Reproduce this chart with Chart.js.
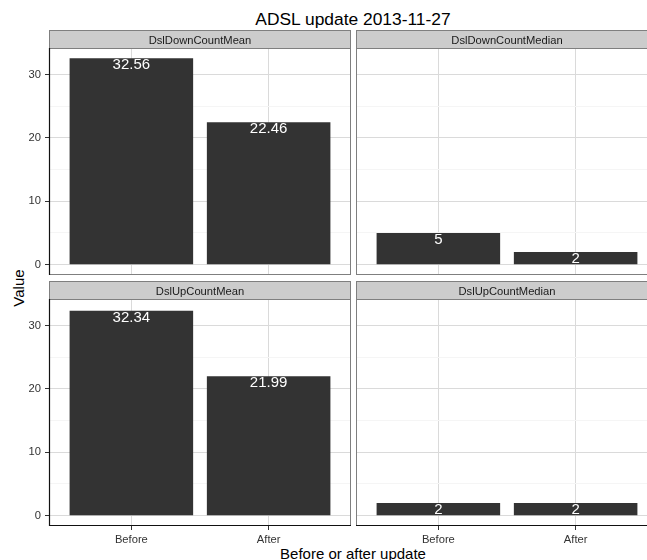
<!DOCTYPE html>
<html>
<head>
<meta charset="utf-8">
<script src="https://cdn.jsdelivr.net/npm/chart.js@4/dist/chart.umd.min.js"></script>
<style>
  html, body { margin: 0; padding: 0; width: 647px; height: 560px; overflow: hidden; background: #fff;
    font-family: "Liberation Sans", Arial, Helvetica, sans-serif; }
  .panel { position: absolute; }
  .txt { position: absolute; white-space: nowrap; color: #000; }
</style>
</head>
<body>
<div class="txt" id="title" style="left:0; width:706px; top:11px; text-align:center; font-size:17.4px; line-height:17px;"></div>
<div class="txt" id="xtitle" style="left:0; width:706px; top:546px; text-align:center; font-size:15px; line-height:15px;"></div>
<div class="txt" id="ytitle" style="left:18px; top:288px; font-size:15px; line-height:15px; transform:translate(-50%,-50%) rotate(-90deg);"></div>

<div class="panel" style="left:0; top:30px; width:351px; height:245px;"><canvas id="p1"></canvas></div>
<div class="panel" style="left:356px; top:30px; width:302px; height:245px;"><canvas id="p2"></canvas></div>
<div class="panel" style="left:0; top:281px; width:351px; height:279px;"><canvas id="p3"></canvas></div>
<div class="panel" style="left:356px; top:281px; width:302px; height:279px;"><canvas id="p4"></canvas></div>

<script>
// Text
const chartTitle = 'ADSL update 2013-11-27';
const xAxisTitle = 'Before or after update';
const yAxisTitle = 'Value';

// Categories on the x axis and facet names
const categories = ['Before', 'After'];
const facetLabels = ['DslDownCountMean', 'DslDownCountMedian', 'DslUpCountMean', 'DslUpCountMedian'];

// Values per facet (Before, After)
const dslDownCountMean = [32.56, 22.46];
const dslDownCountMedian = [5, 2];
const dslUpCountMean = [32.34, 21.99];
const dslUpCountMedian = [2, 2];

// Y axis ticks
const yMajorTicks = [0, 10, 20, 30];
const yMinorTicks = [5, 15, 25];

document.getElementById('title').textContent = chartTitle;
document.getElementById('xtitle').textContent = xAxisTitle;
document.getElementById('ytitle').textContent = yAxisTitle;

const FONT = '"Liberation Sans", Arial, Helvetica, sans-serif';
const STRIP_H = 18;

// Shared y range: data range padded by 5% on each side
const allValues = [].concat(dslDownCountMean, dslDownCountMedian, dslUpCountMean, dslUpCountMedian);
const yHi = Math.max(0, ...allValues);
const yLo = Math.min(0, ...allValues);
const ySpan = yHi - yLo;
const yMin = yLo - 0.05 * ySpan;
const yMax = yHi + 0.05 * ySpan;

// Discrete x range: 0.6 of a category on either side
const xMin = 1 - 0.6;
const xMax = categories.length + 0.6;

const yAllTicks = yMajorTicks.concat(yMinorTicks).sort((a, b) => a - b);

// Panel border, strip, value labels and axis lines
const facetPlugin = {
  id: 'facet',
  afterDatasetsDraw(chart, args, opts) {
    const ctx = chart.ctx;
    const a = chart.chartArea;
    const w = a.right - a.left;
    ctx.save();

    // value labels, top of text at the top of each bar
    const ds = chart.data.datasets[0];
    const meta = chart.getDatasetMeta(0);
    ctx.fillStyle = '#ffffff';
    ctx.font = '15px ' + FONT;
    ctx.textAlign = 'center';
    ctx.textBaseline = 'alphabetic';
    meta.data.forEach((el, i) => {
      ctx.fillText(String(ds.data[i].y), el.x, el.y + 10.8);
    });

    // panel border
    ctx.strokeStyle = '#7f7f7f';
    ctx.lineWidth = 1;
    ctx.strokeRect(a.left + 0.5, a.top + 0.5, w - 1, a.bottom - a.top - 1);

    // strip
    ctx.fillStyle = '#cccccc';
    ctx.fillRect(a.left, a.top - STRIP_H, w, STRIP_H);
    ctx.strokeRect(a.left + 0.5, a.top - STRIP_H + 0.5, w - 1, STRIP_H);
    ctx.fillStyle = '#1a1a1a';
    ctx.font = '11.2px ' + FONT;
    ctx.textAlign = 'center';
    ctx.textBaseline = 'alphabetic';
    ctx.fillText(opts.label, (a.left + a.right) / 2, a.top - STRIP_H + 14.3);

    // axis lines
    ctx.strokeStyle = '#111111';
    ctx.lineWidth = 1.2;
    if (opts.axisY) {
      ctx.beginPath();
      ctx.moveTo(a.left + 0.5, a.top);
      ctx.lineTo(a.left + 0.5, a.bottom);
      ctx.stroke();
    }
    if (opts.axisX) {
      ctx.beginPath();
      ctx.moveTo(a.left, a.bottom - 0.5);
      ctx.lineTo(a.right, a.bottom - 0.5);
      ctx.stroke();
    }
    ctx.restore();
  }
};

function makePanel(canvasId, label, values, axisY, axisX) {
  return new Chart(document.getElementById(canvasId), {
    type: 'bar',
    data: {
      datasets: [{
        data: values.map((v, i) => ({ x: i + 1, y: v })),
        backgroundColor: '#333333',
        borderWidth: 0,
        barPercentage: 0.9,
        categoryPercentage: 1.0
      }]
    },
    options: {
      responsive: true,
      maintainAspectRatio: false,
      animation: false,
      devicePixelRatio: 1,
      layout: { padding: { top: STRIP_H, left: 0, right: 0, bottom: 0 } },
      plugins: {
        legend: { display: false },
        tooltip: { enabled: false },
        facet: { label: label, axisY: axisY, axisX: axisX }
      },
      scales: {
        x: {
          type: 'linear',
          min: xMin,
          max: xMax,
          bounds: 'data',
          offset: false,
          afterBuildTicks: s => { s.ticks = categories.map((c, i) => ({ value: i + 1 })); },
          afterFit: s => {
            s.height = axisX ? 34 : 0;
            s.paddingLeft = 0; s.paddingRight = 0; s.paddingTop = 0; s.paddingBottom = 0;
          },
          grid: { offset: false, color: '#dadada', lineWidth: 1, drawTicks: axisX, tickLength: 4, tickColor: '#333333' },
          border: { display: false },
          ticks: {
            display: axisX, autoSkip: false, maxRotation: 0, padding: 3,
            color: '#333333', font: { family: FONT, size: 11.2 },
            callback: v => categories[Math.round(v) - 1] || ''
          }
        },
        y: {
          type: 'linear',
          min: yMin,
          max: yMax,
          bounds: 'data',
          afterBuildTicks: s => { s.ticks = yAllTicks.map(v => ({ value: v })); },
          afterFit: s => {
            s.width = axisY ? 49 : 0;
            s.paddingLeft = 0; s.paddingRight = 0; s.paddingTop = 0; s.paddingBottom = 0;
          },
          grid: {
            color: c => (yMinorTicks.includes(c.tick && c.tick.value) ? '#f5f5f5' : '#dadada'),
            lineWidth: 1,
            drawTicks: axisY,
            tickLength: 4,
            tickColor: c => (yMinorTicks.includes(c.tick && c.tick.value) ? 'rgba(0,0,0,0)' : '#333333')
          },
          border: { display: false },
          ticks: {
            display: axisY, autoSkip: false, padding: 4,
            color: '#333333', font: { family: FONT, size: 11.2 },
            callback: v => (yMajorTicks.includes(v) ? String(v) : '')
          }
        }
      }
    },
    plugins: [facetPlugin]
  });
}

makePanel('p1', facetLabels[0], dslDownCountMean, true, false);
makePanel('p2', facetLabels[1], dslDownCountMedian, false, false);
makePanel('p3', facetLabels[2], dslUpCountMean, true, true);
makePanel('p4', facetLabels[3], dslUpCountMedian, false, true);
</script>
</body>
</html>
